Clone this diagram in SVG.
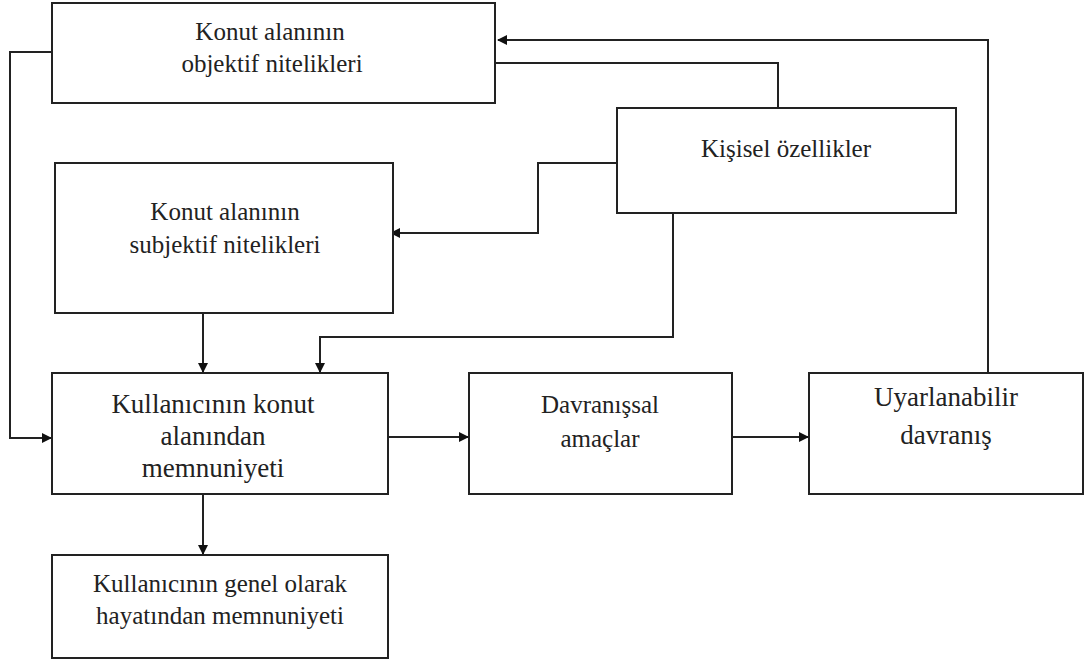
<svg xmlns="http://www.w3.org/2000/svg" width="1088" height="666" viewBox="0 0 1088 666">
<style>
.box{fill:#fff;stroke:#222;stroke-width:2}
.t{font-family:'Times New Roman','Liberation Serif',Tinos,'DejaVu Serif',serif;font-size:25px;fill:#222;text-anchor:middle}
.c{fill:none;stroke:#222;stroke-width:2}
</style>
<defs>
<marker id="ah" markerWidth="10" markerHeight="10" refX="9" refY="5" orient="auto" markerUnits="userSpaceOnUse">
<path d="M0,0 L10,5 L0,10 z" fill="#111"/>
</marker>
</defs>
<rect width="1088" height="666" fill="#fff"/>
<g id="connectors">
<path class="c" d="M988,373 V40 H498" marker-end="url(#ah)"/>
<path class="c" d="M495,63 H778 V108"/>
<path class="c" d="M617,163 H538 V233 H391" marker-end="url(#ah)"/>
<path class="c" d="M673,213 V337 H320 V372" marker-end="url(#ah)"/>
<path class="c" d="M203,313 V372" marker-end="url(#ah)"/>
<path class="c" d="M52,52 H10 V438 H51" marker-end="url(#ah)"/>
<path class="c" d="M388,437 H468" marker-end="url(#ah)"/>
<path class="c" d="M732,437 H808" marker-end="url(#ah)"/>
<path class="c" d="M203,494 V554" marker-end="url(#ah)"/>
</g>
<g id="n1"><rect class="box" x="52" y="3" width="443" height="100"/>
<text class="t" x="270" y="40">Konut alanının</text><text class="t" x="272" y="72">objektif nitelikleri</text></g>
<g id="n2"><rect class="box" x="617" y="108" width="339" height="105"/>
<text class="t" x="786" y="157">Kişisel özellikler</text></g>
<g id="n3"><rect class="box" x="55" y="163" width="338" height="150"/>
<text class="t" x="225" y="220">Konut alanının</text><text class="t" x="225" y="253">subjektif nitelikleri</text></g>
<g id="n4"><rect class="box" x="52" y="373" width="336" height="121"/>
<text class="t" x="213" y="413" style="font-size:27px">Kullanıcının konut</text><text class="t" x="213" y="445" style="font-size:27px">alanından</text><text class="t" x="213" y="477" style="font-size:27px">memnuniyeti</text></g>
<g id="n5"><rect class="box" x="469" y="373" width="263" height="121"/>
<text class="t" x="600" y="413">Davranışsal</text><text class="t" x="600" y="447">amaçlar</text></g>
<g id="n6"><rect class="box" x="809" y="373" width="274" height="121"/>
<text class="t" x="946" y="406" style="font-size:27px">Uyarlanabilir</text><text class="t" x="946" y="444" style="font-size:27px">davranış</text></g>
<g id="n7"><rect class="box" x="52" y="555" width="336" height="103"/>
<text class="t" x="220" y="592">Kullanıcının genel olarak</text><text class="t" x="220" y="624">hayatından memnuniyeti</text></g>
</svg>
